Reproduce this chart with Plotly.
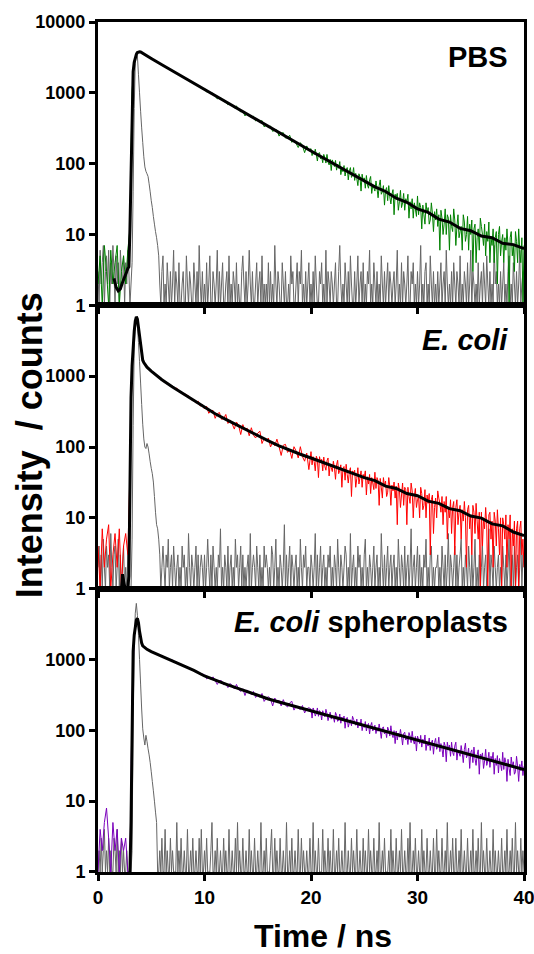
import plotly.graph_objects as go
from plotly.subplots import make_subplots

# ---------------- data (counts) ----------------
# decay data: every 0.2 ns from 0 to 19.8 ns, then every 0.1 ns from 20 to 40 ns
# instrument response (grey): every 0.1 ns from 0 to 40 ns
EARLY_STEP = 0.2
LATE_STEP = 0.1
LATE_START = 20.0
IRF_STEP = 0.1

# ---- PBS ----
pbs_data_early = [
    2, 5, 1, 7, 3, 1, 6, 2, 4, 7, 1, 3, 5, 2, 6,
    12, 1050, 2700, 3480, 3790, 3740,
    3552, 3478, 3262, 3201, 3010, 2958, 2779, 2731, 2560, 2519,
    2366, 2330, 2171, 2150, 2002, 1990, 1843, 1829, 1701, 1695,
    1570, 1561, 1440, 1449, 1331, 1340, 1225, 1236, 1124,
    1139, 1028, 1036, 969, 993, 903, 820, 857, 834, 755,
    746, 677, 717, 669, 610, 653, 577, 537, 555, 472,
    518, 482, 446, 468, 401, 417, 383, 407, 332, 347,
    322, 340, 285, 299, 299, 245, 269, 274, 230, 231,
    252, 200, 216, 193, 169, 198, 180, 143, 178, 154,
]
pbs_data_late = [
    163, 130, 149, 135, 160, 134, 109, 140, 143, 117,
    125, 103, 135, 122, 102, 135, 106, 96, 115, 80,
    113, 102, 91, 111, 81, 98, 86, 107, 70, 86,
    77, 94, 67, 82, 88, 59, 79, 88, 64, 69,
    88, 58, 73, 62, 49, 72, 65, 41, 71, 57,
    63, 45, 68, 50, 45, 59, 66, 38, 50, 46,
    41, 57, 45, 33, 49, 59, 37, 40, 49, 26,
    42, 46, 30, 49, 34, 27, 37, 43, 19, 37,
    34, 38, 22, 29, 42, 24, 28, 38, 22, 32,
    28, 37, 17, 29, 23, 32, 17, 28, 23, 18,
    35, 19, 28, 24, 12, 26, 19, 14, 28, 20,
    24, 14, 16, 28, 20, 11, 21, 16, 23, 13,
    19, 6, 22, 17, 10, 14, 23, 10, 19, 17,
    6, 19, 13, 11, 23, 16, 7, 13, 19, 9,
    11, 13, 6, 19, 15, 8, 10, 18, 6, 14,
    10, 16, 3, 12, 14, 4, 9, 12, 6, 17,
    13, 10, 7, 14, 5, 11, 8, 15, 4, 9,
    7, 12, 4, 9, 11, 2, 10, 13, 5, 8,
    10, 4, 9, 6, 12, 7, 1, 9, 11, 5,
    7, 3, 11, 8, 4, 12, 6, 4, 9, 1,
    7,
]
pbs_irf = [
    3, 1, 6, 2, 4, 7, 1, 3, 5, 2, 6, 1, 4, 2, 7, 3, 1, 5, 2, 4,
    1, 6, 3, 2, 5, 1, 4, 2, 6, 3,
    1, 2, 4, 40, 600, 2600, 3700, 3300, 1800, 1000,
    550, 320, 200, 125, 90, 78, 72, 66, 52, 40,
    30, 24, 18, 14, 11, 9, 7, 5,
    2, 1, 3, 5, 1, 2, 1, 4, 2, 1, 3, 1, 2, 6, 1, 3, 2, 1, 4, 1,
    1, 2, 3, 1, 1, 5, 2, 1, 3, 2, 1, 1, 4, 2, 1, 3, 1, 7, 2, 1,
    3, 1, 2, 1, 4, 1, 2, 5, 1, 1, 3, 2, 1, 2, 6, 1, 3, 1, 2, 4,
    1, 1, 2, 3, 1, 5, 1, 2, 1, 3, 2, 1, 4, 1, 2, 1, 1, 3, 5, 2,
    1, 3, 1, 2, 6, 2, 1, 3, 1, 1, 2, 4, 1, 2, 3, 1, 5, 1, 2, 1,
    2, 1, 4, 1, 3, 1, 2, 1, 7, 2, 1, 3, 2, 1, 1, 4, 2, 1, 3, 1,
    1, 2, 1, 5, 2, 3, 1, 1, 2, 4, 1, 3, 2, 6, 1, 2, 1, 3, 1, 2,
    4, 1, 2, 1, 3, 1, 5, 2, 1, 1, 3, 2, 4, 1, 2, 1, 6, 1, 3, 2,
    1, 3, 2, 1, 2, 4, 1, 1, 3, 7, 2, 1, 2, 1, 4, 2, 1, 3, 1, 5,
    2, 1, 1, 3, 1, 2, 5, 1, 2, 3, 1, 4, 1, 2, 1, 3, 2, 6, 1, 2,
    1, 4, 2, 1, 3, 1, 2, 1, 5, 2, 1, 3, 1, 2, 4, 1, 3, 2, 1, 2,
    3, 1, 2, 6, 1, 2, 1, 4, 1, 3, 2, 1, 2, 5, 1, 1, 3, 2, 4, 1,
    2, 1, 3, 1, 2, 7, 1, 2, 1, 3, 4, 1, 2, 1, 5, 2, 1, 3, 1, 2,
    1, 3, 1, 2, 4, 1, 2, 3, 1, 6, 2, 1, 2, 1, 3, 1, 4, 2, 1, 3,
    2, 1, 5, 1, 2, 1, 3, 2, 1, 4, 1, 2, 6, 1, 3, 2, 1, 2, 1, 4,
    1, 2, 3, 1, 4, 2, 1, 5, 2, 1, 3, 1, 2, 1, 7, 2, 3, 1, 2, 1,
    3, 1, 2, 4, 1, 2, 1, 3, 5, 1, 2, 1, 4, 2, 1, 3, 1, 2, 6, 1,
    2, 3, 1,
]
pbs_fit_time = [1.5, 1.7, 1.9, 2.1, 2.3, 2.5, 2.7, 2.8, 2.9,
                3.0, 3.1, 3.2, 3.3, 3.4, 3.5, 3.6, 3.7, 3.8, 3.9, 4.0, 4.5, 5,
                6, 7, 8, 9, 10, 11, 12, 13, 14, 15, 16, 17, 18, 19, 20, 21, 22,
                23, 24, 25, 26, 27, 28, 29, 30, 31, 32, 33, 34, 35, 36, 37, 38, 39, 40]
pbs_fit = [2.4, 1.8, 1.6, 1.7, 2.1, 2.6, 3.0, 3.3, 3.5,
           12, 110, 950, 2000, 2700, 3200, 3500, 3700, 3790, 3800, 3770, 3370, 3050,
           2490, 2035, 1663, 1360, 1112, 909, 743, 608, 498, 407,
           333, 273, 224, 184, 151, 124, 102, 84, 69, 57,
           47, 40.5, 32.5, 28.5, 23, 20.5, 16.5, 15, 12.2, 11.3,
           9.5, 9, 7.5, 7.2, 6.3]

# ---- E. coli ----
ecoli_data_early = [
    4, 1, 7, 2, 5, 8, 1, 3, 6, 2, 7, 1, 4, 6, 3,
    45, 1420, 4250, 6850, 5050, 2780, 1690, 1470, 1330, 1275,
    1195, 1092, 1058, 968, 951, 872, 866, 805, 791, 722,
    719, 660, 680, 601, 607, 548, 556, 535, 512, 459,
    468, 416, 445, 378, 395,
    344, 375, 299, 324, 329, 254, 294, 307, 246, 253,
    288, 215, 241, 212, 179, 225, 204, 150, 207, 174,
    185, 144, 187, 146, 134, 157, 167, 112, 132, 121,
    134, 100, 118, 104, 129, 101, 76, 106, 109, 84,
    91, 69, 101, 88, 70, 101, 73, 63, 82, 48,
]
ecoli_data_late = [
    86, 56, 73, 62, 46, 74, 67, 37, 73, 60,
    67, 46, 72, 53, 47, 64, 70, 39, 56, 51,
    45, 63, 51, 35, 56, 65, 42, 47, 56, 27,
    50, 53, 34, 57, 41, 31, 45, 51, 20, 46,
    43, 47, 27, 36, 51, 30, 37, 46, 27, 41,
    37, 46, 21, 38, 30, 41, 22, 37, 31, 25,
    44, 26, 37, 33, 15, 36, 27, 19, 37, 28,
    33, 20, 23, 37, 28, 15, 29, 24, 32, 19,
    28, 8, 31, 25, 14, 21, 31, 15, 27, 25,
    8, 27, 20, 16, 31, 24, 10, 20, 26, 14,
    18, 20, 10, 27, 22, 13, 15, 25, 10, 21,
    16, 22, 3, 18, 21, 6, 14, 19, 10, 24,
    19, 16, 12, 20, 8, 17, 12, 20, 5, 14,
    10, 18, 6, 14, 17, 3, 14, 18, 8, 12,
    15, 5, 13, 9, 17, 10, 2, 13, 15, 7,
    11, 3, 15, 12, 6, 16, 9, 5, 12, 1,
    12, 4, 10, 7, 14, 8, 1, 11, 12, 5,
    9, 2, 12, 9, 4, 13, 7, 3, 10, 1,
    10, 8, 5, 11, 2, 8, 5, 11, 1, 7,
    4, 9, 1, 7, 9, 1, 7, 9, 3, 5,
    2,
]
ecoli_irf = [
    2, 4, 1, 3, 1, 5, 2, 1, 4, 2, 3, 1, 6, 2, 1, 3, 4, 1, 2, 5,
    1, 3, 1, 2, 4, 1, 2, 1, 3, 1, 1,
    1, 5, 200, 2500, 5500, 6500, 5000, 3000, 1600, 800,
    400, 210, 130, 100, 95, 112, 100, 80, 62, 50,
    42, 32, 20, 12, 8, 7, 5,
    3, 1, 2, 4, 2, 1, 3, 2, 5, 1, 2, 3, 1, 4, 2, 1, 2, 3, 1, 2,
    1, 4, 2, 3, 1, 2, 1, 6, 2, 1, 3, 2, 1, 2, 4, 1, 3, 1, 2, 3,
    2, 1, 3, 1, 2, 5, 2, 1, 3, 1, 4, 2, 1, 2, 1, 3, 2, 7, 1, 2,
    1, 3, 2, 1, 4, 1, 2, 3, 1, 2, 1, 5, 2, 3, 1, 2, 4, 1, 3, 1,
    2, 1, 2, 3, 1, 6, 1, 2, 3, 2, 1, 4, 2, 1, 3, 1, 2, 1, 4, 2,
    3, 2, 1, 2, 1, 4, 3, 1, 2, 5, 1, 2, 1, 3, 2, 1, 2, 8, 1, 3,
    1, 2, 4, 1, 3, 2, 1, 2, 3, 1, 2, 1, 5, 2, 1, 3, 2, 4, 1, 2,
    2, 1, 3, 2, 1, 2, 6, 1, 3, 1, 2, 4, 1, 2, 3, 1, 2, 1, 3, 2,
    4, 1, 2, 1, 3, 2, 1, 5, 2, 1, 3, 2, 1, 2, 4, 3, 1, 2, 1, 6,
    1, 2, 3, 1, 2, 1, 4, 2, 3, 1, 2, 1, 3, 5, 1, 2, 1, 3, 2, 1,
    2, 4, 1, 2, 3, 1, 2, 1, 6, 2, 1, 3, 1, 2, 4, 1, 2, 3, 1, 2,
    3, 1, 2, 1, 5, 2, 1, 3, 2, 1, 4, 1, 2, 3, 1, 2, 7, 1, 2, 3,
    1, 2, 4, 1, 3, 1, 2, 1, 3, 2, 5, 1, 2, 1, 3, 4, 1, 2, 1, 2,
    2, 3, 1, 2, 1, 4, 2, 1, 3, 1, 2, 6, 1, 3, 2, 1, 2, 4, 1, 3,
    1, 2, 3, 5, 1, 2, 1, 3, 2, 1, 4, 2, 1, 3, 1, 2, 5, 1, 2, 1,
    3, 1, 2, 4, 1, 2, 3, 1, 2, 7, 1, 3, 2, 1, 4, 2, 1, 2, 3, 1,
    2, 1, 4, 2, 1, 3, 1, 2, 5, 1, 2, 3, 1, 4, 1, 2, 3, 1, 2, 6,
    1, 3, 2,
]
ecoli_fit_time = [2.2, 2.3, 2.4, 2.5, 2.6, 2.7, 2.8, 2.9,
                  3.0, 3.1, 3.2, 3.3, 3.4, 3.5, 3.6, 3.7, 3.8, 3.9, 4.0, 4.1, 4.2, 4.3, 4.4,
                  4.6, 5.0, 5.5,
                  6, 7, 8, 9, 10, 11, 12, 13, 14, 15, 16, 17, 18, 19, 20, 21, 22,
                  23, 24, 25, 26, 27, 28, 29, 30, 31, 32, 33, 34, 35, 36, 37, 38, 39, 40]
ecoli_fit = [1.0, 1.6, 1.3, 1.0, 0.9, 0.9, 1.0, 1.5,
             50, 500, 1400, 2700, 4300, 6000, 6900, 6400, 5000, 3800, 2800, 2050, 1680, 1560, 1480,
             1340, 1180, 1010,
             890, 705, 565, 452, 360, 295, 246, 205, 172, 144,
             122, 104, 90, 79, 70, 61.5, 54, 47.5, 42, 37,
             33.5, 28, 26, 22, 20.5, 17.2, 16, 13.5, 12.6, 10.6,
             9.9, 8.2, 7.7, 6.3, 5.6]

# ---- E. coli spheroplasts ----
sph_data_early = [
    1, 4, 2, 5, 8, 3, 1, 5, 2, 4, 1, 3, 2, 3, 1,
    1, 280, 2150, 3550, 3330, 1990, 1570, 1440, 1395, 1340,
    1305, 1238, 1231, 1165, 1160, 1094, 1095, 1031, 1035, 971,
    978, 915, 922, 862, 872, 812, 821, 759, 770, 708,
    717, 657, 668, 611, 624,
    610, 533, 563, 524, 569, 504, 445, 502, 501, 441,
    453, 401, 460, 429, 384, 445, 380, 353, 386, 310,
    372, 346, 319, 354, 291, 319, 293, 331, 256, 283,
    299, 278, 221, 286, 252, 265, 221, 271, 227, 214,
    244, 257, 193, 218, 206, 197, 224, 176, 201, 209,
]
sph_data_late = [
    199, 149, 207, 188, 159, 173, 207, 158, 190, 180,
    140, 189, 166, 155, 198, 173, 137, 159, 180, 144,
    151, 156, 130, 179, 163, 134, 139, 170, 126, 154,
    139, 159, 107, 143, 152, 111, 128, 141, 116, 158,
    142, 131, 118, 144, 108, 130, 116, 144, 99, 119,
    110, 133, 98, 117, 125, 89, 116, 129, 98, 107,
    118, 90, 109, 97, 123, 99, 77, 108, 112, 89,
    99, 79, 111, 100, 83, 116, 88, 79, 99, 65,
    98, 73, 91, 80, 103, 82, 62, 90, 94, 73,
    82, 63, 93, 83, 67, 97, 73, 64, 82, 51,
    83, 74, 65, 85, 58, 75, 65, 86, 52, 67,
    60, 78, 52, 67, 73, 46, 67, 77, 54, 60,
    80, 50, 65, 55, 42, 68, 60, 36, 68, 54,
    62, 43, 68, 49, 44, 60, 68, 38, 52, 48,
    43, 61, 48, 35, 54, 66, 41, 45, 56, 29,
    49, 53, 35, 58, 40, 32, 45, 53, 24, 46,
    42, 48, 29, 37, 54, 32, 37, 49, 30, 43,
    38, 49, 24, 40, 32, 44, 25, 40, 33, 27,
    49, 28, 41, 35, 19, 39, 29, 23, 42, 31,
    36, 24, 26, 43, 31, 19, 33, 27, 37, 23,
    31,
]
sph_irf = [
    1, 2, 1, 3, 1, 2, 4, 1, 2, 1, 3, 1, 2, 1, 1, 3, 2, 1, 4, 1,
    2, 1, 3, 1, 2, 1, 1, 2, 1, 1, 1,
    1, 2, 150, 1500, 4500, 6200, 4200, 2200, 1000, 450,
    200, 105, 78, 62, 85, 70, 55, 45, 35, 26,
    19, 14, 10, 7, 5,
    1, 1, 2, 1, 3, 1, 1, 4, 1, 2, 1, 1, 3, 1, 2, 1, 1, 1, 5, 1,
    2, 1, 3, 1, 1, 2, 1, 1, 4, 1, 1, 2, 1, 3, 1, 1, 2, 1, 1, 3,
    1, 4, 1, 1, 2, 1, 3, 1, 1, 1, 2, 5, 1, 1, 2, 1, 3, 1, 1, 2,
    1, 1, 3, 1, 2, 1, 1, 4, 1, 1, 2, 1, 1, 3, 1, 5, 1, 2, 1, 1,
    3, 1, 1, 2, 1, 1, 4, 1, 2, 1, 1, 3, 1, 1, 2, 1, 1, 5, 1, 1,
    2, 1, 3, 1, 1, 1, 2, 4, 1, 1, 3, 1, 2, 1, 1, 3, 1, 1, 2, 1,
    1, 5, 1, 1, 2, 1, 3, 1, 1, 2, 1, 1, 4, 1, 1, 3, 1, 2, 1, 1,
    2, 1, 1, 3, 1, 1, 5, 1, 2, 1, 1, 3, 1, 1, 1, 4, 1, 2, 1, 1,
    3, 1, 2, 1, 1, 4, 1, 1, 2, 1, 3, 1, 1, 2, 1, 1, 5, 1, 1, 2,
    1, 1, 3, 1, 2, 1, 1, 4, 1, 1, 2, 1, 1, 3, 1, 2, 1, 1, 4, 1,
    2, 1, 1, 3, 1, 1, 2, 1, 5, 1, 1, 2, 1, 3, 1, 1, 1, 2, 1, 4,
    1, 2, 1, 1, 3, 1, 1, 2, 1, 4, 1, 1, 2, 1, 1, 3, 1, 5, 1, 1,
    2, 1, 3, 1, 1, 2, 1, 1, 4, 1, 2, 1, 1, 3, 1, 1, 2, 1, 1, 3,
    1, 1, 4, 1, 2, 1, 1, 3, 1, 1, 2, 1, 5, 1, 1, 2, 1, 3, 1, 1,
    3, 1, 1, 2, 1, 4, 1, 1, 2, 1, 1, 3, 1, 1, 2, 1, 4, 1, 1, 2,
    1, 3, 1, 1, 5, 1, 2, 1, 1, 3, 1, 1, 2, 1, 1, 4, 1, 2, 1, 1,
    2, 1, 1, 3, 1, 1, 2, 1, 4, 1, 1, 2, 1, 3, 1, 1, 5, 1, 2, 1,
    1, 3, 1, 2, 1,
]
sph_fit_time = [2.9, 3.0, 3.1, 3.2, 3.3, 3.4, 3.5, 3.6, 3.7, 3.8, 3.9, 4.0, 4.1, 4.2,
                4.4, 4.6, 5,
                6, 7, 8, 9, 10, 11, 12, 13, 14, 15, 16, 17, 18, 19, 20, 21, 22,
                23, 24, 25, 26, 27, 28, 29, 30, 31, 32, 33, 34, 35, 36, 37, 38, 39, 40]
sph_fit = [0.9, 1, 5, 300, 1300, 2200, 3000, 3600, 3800, 3300, 2500, 2000, 1700, 1560,
           1450, 1390, 1290,
           1110, 960, 830, 700, 585, 510, 450, 398, 350, 308,
           277, 251, 228, 208, 190, 172, 156, 142, 129, 118,
           107, 97.5, 88.5, 80.5, 73, 66.5, 60.5, 55, 50, 45.5,
           41.5, 37.5, 34, 31, 28]

panel_labels = ["PBS", "<i>E. coli</i>", "<i>E. coli</i> spheroplasts"]
data_colors = ["#008000", "#FF0000", "#7B00BC"]
x_ticks = [0, 10, 20, 30, 40]
y_ticks_top = [1, 10, 100, 1000, 10000]
y_ticks = [1, 10, 100, 1000]


def grid(values, step, start=0.0):
    return [round(start + i * step, 2) for i in range(len(values))]


FONT = "Liberation Sans, Arial, Helvetica, sans-serif"

fig = make_subplots(rows=3, cols=1, shared_xaxes=True, vertical_spacing=0)

panels = [
    (pbs_data_early, pbs_data_late, pbs_irf, pbs_fit_time, pbs_fit),
    (ecoli_data_early, ecoli_data_late, ecoli_irf, ecoli_fit_time, ecoli_fit),
    (sph_data_early, sph_data_late, sph_irf, sph_fit_time, sph_fit),
]

for r, (d_early, d_late, irf, ft, fv) in enumerate(panels, start=1):
    data_x = grid(d_early, EARLY_STEP) + grid(d_late, LATE_STEP, LATE_START)
    data_y = d_early + d_late
    fig.add_trace(go.Scatter(x=grid(irf, IRF_STEP), y=irf, mode="lines",
                             line=dict(color="#666666", width=1, simplify=False),
                             hoverinfo="skip"), row=r, col=1)
    fig.add_trace(go.Scatter(x=data_x, y=data_y, mode="lines",
                             line=dict(color=data_colors[r - 1], width=1, simplify=False),
                             hoverinfo="skip"), row=r, col=1)
    fig.add_trace(go.Scatter(x=ft, y=fv, mode="lines",
                             line=dict(color="black", width=3),
                             hoverinfo="skip"), row=r, col=1)
    tv = y_ticks_top if r == 1 else y_ticks
    fig.update_yaxes(type="log", range=[0, 4], tickvals=tv, ticktext=[str(v) for v in tv],
                     ticks="outside", ticklen=6, tickwidth=3, tickcolor="black",
                     showline=True, linewidth=3, linecolor="black", mirror=True,
                     showgrid=False, zeroline=False, automargin=False,
                     ticklabeloverflow="allow",
                     tickfont=dict(family=FONT, size=18, color="black", weight="bold"),
                     row=r, col=1)
    fig.update_xaxes(range=[0, 40], tickvals=x_ticks, ticktext=[str(v) for v in x_ticks],
                     ticks="outside", ticklen=6, tickwidth=3, tickcolor="black",
                     showline=True, linewidth=3, linecolor="black", mirror=True,
                     showgrid=False, zeroline=False, automargin=False,
                     ticklabeloverflow="allow",
                     tickfont=dict(family=FONT, size=19, color="black", weight="bold"),
                     row=r, col=1)

label_y = [0.959, 0.626, 0.294]
for lbl, yy in zip(panel_labels, label_y):
    fig.add_annotation(text=lbl, x=0.967, y=yy, xref="paper", yref="paper",
                       xanchor="right", yanchor="middle", showarrow=False,
                       font=dict(family=FONT, size=29, color="black", weight="bold"))

fig.add_annotation(text="Intensity  / counts", x=-0.162, y=0.502, xref="paper", yref="paper",
                   textangle=-90, xanchor="center", yanchor="middle", showarrow=False,
                   font=dict(family=FONT, size=36, color="black", weight="bold"))
fig.add_annotation(text="Time / ns", x=0.528, y=-0.075, xref="paper", yref="paper",
                   xanchor="center", yanchor="middle", showarrow=False,
                   font=dict(family=FONT, size=32, color="black", weight="bold"))

fig.update_layout(width=534, height=954, margin=dict(l=98, r=10, t=22, b=82),
                  plot_bgcolor="white", paper_bgcolor="white", showlegend=False)

fig.write_html("out.html", config={"displayModeBar": False},
               post_script="document.body.style.margin='0';document.body.style.overflow='hidden';")
